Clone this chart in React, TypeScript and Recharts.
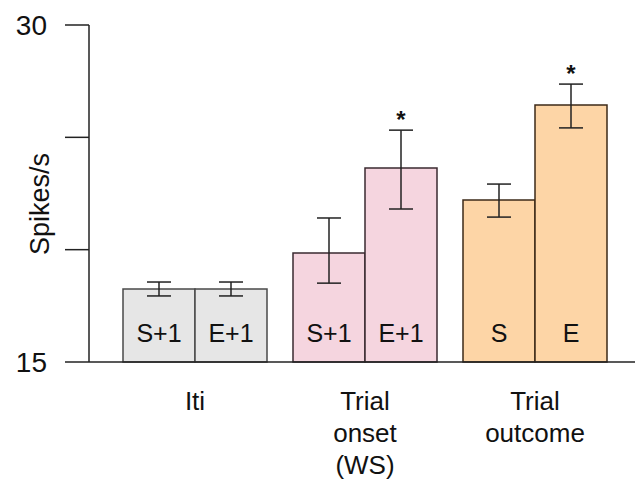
import { BarChart, Bar, XAxis, YAxis, ErrorBar, Cell, LabelList } from 'recharts';

const categories = ['Iti', 'Trial onset (WS)', 'Trial outcome'];
const categoryLines = [['Iti'], ['Trial', 'onset', '(WS)'], ['Trial', 'outcome']];
const firstLabels = ['S+1', 'S+1', 'S'];
const secondLabels = ['E+1', 'E+1', 'E'];
const firstValues = [18.25, 19.85, 22.21];
const secondValues = [18.25, 23.63, 26.44];
// [below, above] the mean
const firstErrors = [[0.31, 0.31], [1.34, 1.56], [0.76, 0.71]];
const secondErrors = [[0.31, 0.31], [1.82, 1.69], [1.02, 0.93]];
const secondStars = ['', '*', '*'];
const yTicks = [15, 20, 25, 30];
const yLabelled = [15, 30];

const groupFills = ['#e6e6e6', '#f5d5df', '#fdd5a6'];
const groupStrokes = ['#4a4a4a', '#3a2a30', '#3d2a18'];

const FONT = '"Liberation Sans", Arial, sans-serif';

const chartData = categories.map((name, i) => ({
  name,
  first: firstValues[i],
  second: secondValues[i],
  firstErr: firstErrors[i],
  secondErr: secondErrors[i],
  firstLabel: firstLabels[i],
  secondLabel: secondLabels[i],
  star: secondStars[i],
}));

const CategoryTick = ({ x, y, index }: any) => (
  <g>
    {categoryLines[index].map((line, k) => (
      <text key={k} x={x} y={y + 48 + k * 32} textAnchor="middle" fontSize={26} fill="#111" fontFamily={FONT}>
        {line}
      </text>
    ))}
  </g>
);

const InnerLabel = ({ x, y, width, height, value }: any) => (
  <text x={x + width / 2} y={y + height - 20} textAnchor="middle" fontSize={25} fill="#111" fontFamily={FONT}>
    {value}
  </text>
);

const StarLabel = ({ x, y, width, height, value, index }: any) => {
  if (!value) return null;
  const d = chartData[index];
  const pxPerUnit = height / (d.second - 15);
  const errTop = y - d.secondErr[1] * pxPerUnit;
  return (
    <text x={x + width / 2} y={errTop - 2} textAnchor="middle" fontSize={24} fontWeight="bold" fill="#111" fontFamily={FONT}>
      {value}
    </text>
  );
};

export default function App() {
  return (
    <div style={{ position: 'absolute', left: 0, top: 0, width: 635, height: 480, background: '#fff' }}>
      <BarChart
        width={635}
        height={480}
        data={chartData}
        margin={{ top: 25, right: 0, bottom: 88, left: 0 }}
        barGap={0}
        barSize={72}
      >
        <XAxis
          dataKey="name"
          height={30}
          padding={{ left: 21, right: 15 }}
          tickLine={false}
          tickSize={0}
          tickMargin={0}
          axisLine={{ stroke: '#222', strokeWidth: 1.5 }}
          tick={<CategoryTick />}
          interval={0}
        />
        <YAxis
          width={89}
          domain={[15, 30]}
          ticks={yTicks}
          tickSize={24}
          tickMargin={18}
          tickLine={{ stroke: '#222', strokeWidth: 1.5 }}
          axisLine={{ stroke: '#222', strokeWidth: 1.5 }}
          tickFormatter={(v: number) => (yLabelled.includes(v) ? String(v) : '')}
          tick={{ fontSize: 28, fill: '#111', fontFamily: FONT }}
          label={{
            content: () => (
              <text
                x={40}
                y={204}
                transform="rotate(-90 40 204)"
                textAnchor="middle"
                dominantBaseline="central"
                fontSize={27}
                fill="#111"
                fontFamily={FONT}
              >
                Spikes/s
              </text>
            ),
          }}
        />
        <Bar dataKey="first" isAnimationActive={false} strokeWidth={1.5}>
          {chartData.map((_, i) => (
            <Cell key={i} fill={groupFills[i]} stroke={groupStrokes[i]} />
          ))}
          <ErrorBar dataKey="firstErr" width={12} stroke="#222" strokeWidth={1.5} />
          <LabelList dataKey="firstLabel" content={<InnerLabel />} />
        </Bar>
        <Bar dataKey="second" isAnimationActive={false} strokeWidth={1.5}>
          {chartData.map((_, i) => (
            <Cell key={i} fill={groupFills[i]} stroke={groupStrokes[i]} />
          ))}
          <ErrorBar dataKey="secondErr" width={12} stroke="#222" strokeWidth={1.5} />
          <LabelList dataKey="secondLabel" content={<InnerLabel />} />
          <LabelList dataKey="star" content={<StarLabel />} />
        </Bar>
      </BarChart>
    </div>
  );
}
